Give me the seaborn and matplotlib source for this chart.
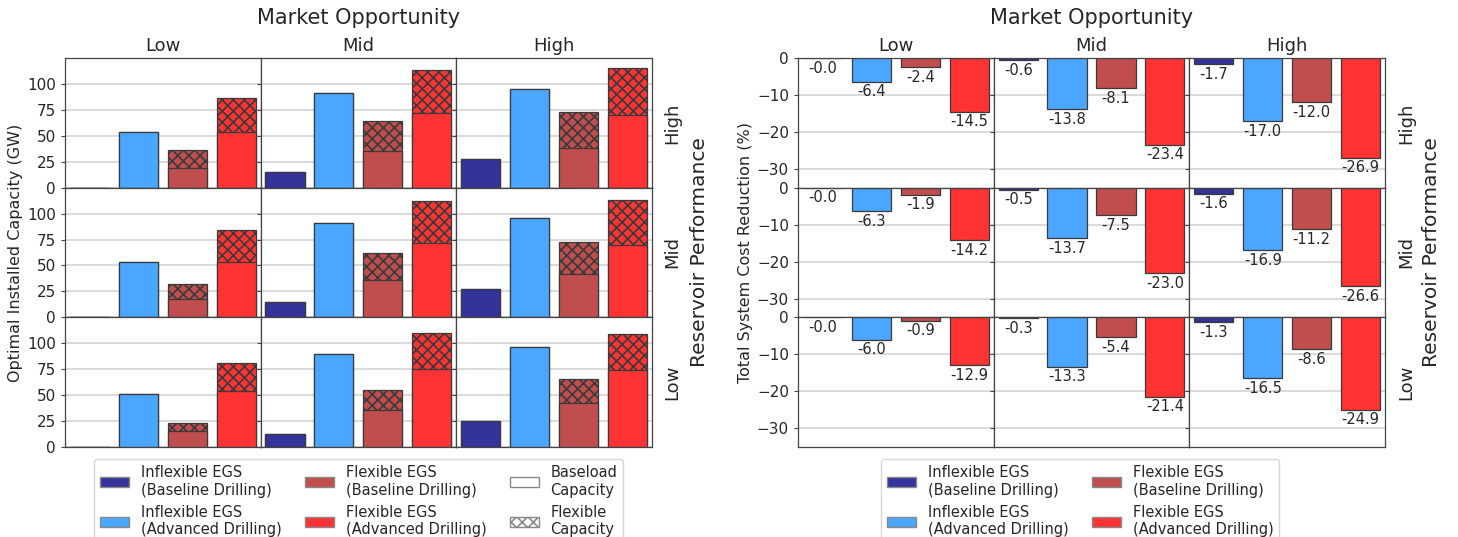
import numpy as np
import pandas as pd
import seaborn as sns
import matplotlib.pyplot as plt
from matplotlib.patches import Patch

# ---- data (rows = reservoir performance High/Mid/Low, cols = market Low/Mid/High)
markets = ["Low", "Mid", "High"]
reservoirs = ["High", "Mid", "Low"]
techs = ["Inflexible EGS\n(Baseline Drilling)", "Inflexible EGS\n(Advanced Drilling)",
         "Flexible EGS\n(Baseline Drilling)", "Flexible EGS\n(Advanced Drilling)"]

inflex_base_gw = [[0, 15, 28], [0, 15, 27], [0, 13, 25]]
inflex_adv_gw = [[54, 91, 95], [53, 91, 96], [51, 90, 96]]
flex_base_baseload_gw = [[19, 35, 38], [18, 36, 42], [15, 36, 42]]
flex_base_total_gw = [[36, 64, 73], [32, 62, 73], [23, 55, 66]]
flex_adv_baseload_gw = [[54, 72, 70], [53, 72, 70], [54, 75, 74]]
flex_adv_total_gw = [[86, 113, 115], [84, 112, 113], [81, 110, 109]]

cost_inflex_base = [[-0.0, -0.6, -1.7], [-0.0, -0.5, -1.6], [-0.0, -0.3, -1.3]]
cost_inflex_adv = [[-6.4, -13.8, -17.0], [-6.3, -13.7, -16.9], [-6.0, -13.3, -16.5]]
cost_flex_base = [[-2.4, -8.1, -12.0], [-1.9, -7.5, -11.2], [-0.9, -5.4, -8.6]]
cost_flex_adv = [[-14.5, -23.4, -26.9], [-14.2, -23.0, -26.6], [-12.9, -21.4, -24.9]]

# navy / dodgerblue / firebrick / red at alpha 0.8 over white
colors = ["#333399", "#4ba6ff", "#c14e4e", "#ff3333"]
edge = "#3a3a3a"

sns.set_style("white")
plt.rcParams["font.family"] = ["DejaVu Sans"]
plt.rcParams["hatch.color"] = "black"
plt.rcParams["hatch.linewidth"] = 1.2

fig = plt.figure(figsize=(14.58, 5.37), dpi=100)
gs_left = fig.add_gridspec(3, 3, left=0.0446, right=0.447, top=0.892, bottom=0.1676,
                           wspace=0, hspace=0)
gs_right = fig.add_gridspec(3, 3, left=0.5473, right=0.950, top=0.892, bottom=0.1676,
                            wspace=0, hspace=0)


def style_axis(ax, r, c, ylim, yticks):
    ax.set_ylim(*ylim)
    ax.set_yticks(yticks)
    ax.set_xticks([])
    ax.set_xlabel("")
    ax.set_ylabel("")
    ax.grid(axis="y", color="#d8d8d8", linewidth=1.3)
    ax.set_axisbelow(True)
    for s in ax.spines.values():
        s.set_color("#444444")
        s.set_linewidth(0.9)
    ax.tick_params(axis="y", labelsize=11, length=3, color="#444444", left=True)
    if c > 0:
        ax.tick_params(axis="y", labelleft=False)
    if r == 0:
        ax.set_title(markets[c], fontsize=13, pad=5)
    if c == 2:
        ax.text(1.06, 0.5, reservoirs[r], transform=ax.transAxes, rotation=90,
                ha="left", va="center", fontsize=13)


# ---- left: installed capacity
for r in range(3):
    for c in range(3):
        ax = fig.add_subplot(gs_left[r, c])
        totals = [inflex_base_gw[r][c], inflex_adv_gw[r][c],
                  flex_base_total_gw[r][c], flex_adv_total_gw[r][c]]
        baseload = [inflex_base_gw[r][c], inflex_adv_gw[r][c],
                    flex_base_baseload_gw[r][c], flex_adv_baseload_gw[r][c]]
        df_tot = pd.DataFrame({"tech": techs, "gw": totals})
        df_base = pd.DataFrame({"tech": techs, "gw": baseload})
        sns.barplot(data=df_tot, x="tech", y="gw", hue="tech", palette=colors,
                    saturation=1, legend=False, ax=ax, width=0.8, edgecolor=edge,
                    linewidth=0.9, hatch="xxx")
        sns.barplot(data=df_base, x="tech", y="gw", hue="tech", palette=colors,
                    saturation=1, legend=False, ax=ax, width=0.8, edgecolor=edge,
                    linewidth=0.9)
        style_axis(ax, r, c, (0, 125), [0, 25, 50, 75, 100])

# ---- right: total system cost reduction
for r in range(3):
    for c in range(3):
        ax = fig.add_subplot(gs_right[r, c])
        vals = [cost_inflex_base[r][c], cost_inflex_adv[r][c],
                cost_flex_base[r][c], cost_flex_adv[r][c]]
        df = pd.DataFrame({"tech": techs, "pct": vals})
        sns.barplot(data=df, x="tech", y="pct", hue="tech", palette=colors,
                    saturation=1, legend=False, ax=ax, width=0.8, edgecolor=edge,
                    linewidth=0.9)
        for i, v in enumerate(vals):
            ax.annotate(f"{v:.1f}", (i, v), xytext=(0, -2), textcoords="offset points",
                        ha="center", va="top", fontsize=10.5)
        style_axis(ax, r, c, (-35, 0), [0, -10, -20, -30])

# ---- titles and labels
fig.text(0.2456, 0.966, "Market Opportunity", ha="center", va="center", fontsize=15)
fig.text(0.7487, 0.966, "Market Opportunity", ha="center", va="center", fontsize=15)
fig.text(0.0105, 0.53, "Optimal Installed Capacity (GW)", rotation=90,
         ha="center", va="center", fontsize=11.5)
fig.text(0.5115, 0.53, "Total System Cost Reduction (%)", rotation=90,
         ha="center", va="center", fontsize=11.5)
fig.text(0.480, 0.53, "Reservoir Performance", rotation=90,
         ha="center", va="center", fontsize=14.5)
fig.text(0.982, 0.53, "Reservoir Performance", rotation=90,
         ha="center", va="center", fontsize=14.5)

# ---- legends
tech_handles = [Patch(facecolor=col, edgecolor="#888888", label=t)
                for col, t in zip(colors, techs)]
cap_handles = [Patch(facecolor="white", edgecolor="#888888", label="Baseload\nCapacity"),
               Patch(facecolor="white", edgecolor="#888888", hatch="xxx",
                     label="Flexible\nCapacity")]
fig.legend(handles=tech_handles + cap_handles, ncol=3, loc="upper center",
           bbox_to_anchor=(0.246, 0.158), fontsize=10.5, handlelength=2.0,
           columnspacing=1.6, frameon=True)
fig.legend(handles=tech_handles, ncol=2, loc="upper center",
           bbox_to_anchor=(0.741, 0.158), fontsize=10.5, handlelength=2.0,
           columnspacing=1.6, frameon=True)

fig.savefig("out.png", dpi=100)
